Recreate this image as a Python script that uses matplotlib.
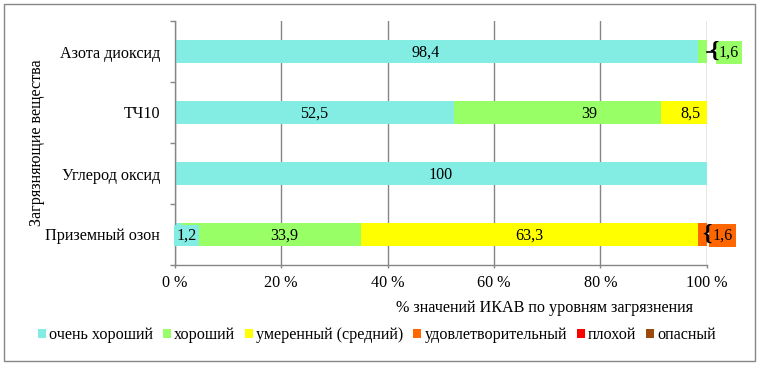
import matplotlib
matplotlib.use("Agg")
import matplotlib.pyplot as plt
from matplotlib.patches import Patch, Rectangle
import numpy as np

plt.rcParams['font.family'] = ['Liberation Serif', 'DejaVu Serif']

categories = ["Азота диоксид", "ТЧ10", "Углерод оксид", "Приземный озон"]
levels = ["очень хороший", "хороший", "умеренный (средний)", "удовлетворительный", "плохой", "опасный"]
colors = ["#83ECE3", "#99FF66", "#FFFF00", "#FF6600", "#FF0000", "#9C4A0B"]
# percent values per level for each category (top to bottom)
very_good = [98.4, 52.5, 100.0, 1.2]
good = [1.6, 39.0, 0.0, 33.9]
moderate = [0.0, 8.5, 0.0, 63.3]
satisfactory = [0.0, 0.0, 0.0, 1.6]
bad = [0.0, 0.0, 0.0, 0.0]
dangerous = [0.0, 0.0, 0.0, 0.0]
xticks = [0, 20, 40, 60, 80, 100]

series = [very_good, good, moderate, satisfactory, bad, dangerous]

FS = 11.6
W, H = 764, 367
fig = plt.figure(figsize=(W / 100, H / 100), dpi=100)
ax = fig.add_axes([174.7 / W, (H - 265) / H, 532 / W, 244 / H])

y = np.arange(len(categories))
left = np.zeros(len(categories))
bar_h = 0.39
for vals, col in zip(series, colors):
    ax.barh(y, vals, left=left, height=bar_h, color=col, zorder=2, linewidth=0)
    left = left + np.array(vals)

ax.set_xlim(0, 100)
ax.set_ylim(3.5, -0.5)
ax.set_xticks(xticks)
ax.set_xticklabels([f"{t} %" for t in xticks], fontsize=FS)
ax.set_yticks(y)
ax.set_yticklabels(categories, fontsize=FS)
ax.set_yticks(np.arange(-0.5, 4.0, 1.0), minor=True)
ax.tick_params(axis='y', which='major', length=0, pad=10.5)
ax.tick_params(axis='y', which='minor', length=3.5, color='#868686', width=1)
ax.tick_params(axis='x', which='major', length=2.5, color='#868686', width=1, pad=5)
ax.grid(axis='x', color='#868686', linewidth=1, zorder=1)
ax.set_axisbelow(True)
for s in ['top', 'right']:
    ax.spines[s].set_visible(False)
for s in ['left', 'bottom']:
    ax.spines[s].set_color('#868686')
    ax.spines[s].set_linewidth(1)

def fmt(v):
    s = f"{v:g}"
    return s.replace('.', ',')

# data labels (centered with small manual offsets as in the reference)
label_offsets = {(0, 0): -2.0, (1, 1): 6.0, (3, 1): 2.5, (1, 2): 1.2}
for ci in range(len(categories)):
    cum = 0.0
    for li, vals in enumerate(series):
        v = vals[ci]
        if v <= 0:
            cum += v
            continue
        bbox = dict(boxstyle='square,pad=0.12', fc=colors[li], ec='none')
        if v < 2 and li == 0:
            ax.text(2.3, ci + 0.02, fmt(v), ha='center', va='center', fontsize=FS,
                    bbox=dict(boxstyle='square,pad=0.15', fc=colors[li], ec='none'), zorder=4)
        elif v < 2:
            x0 = 102.3 if ci == 0 else 101.1
            ax.text(x0, ci + 0.02, fmt(v), ha='left', va='center', fontsize=FS,
                    bbox=dict(boxstyle='square,pad=0.2', fc=colors[li], ec='none'),
                    zorder=4, clip_on=False)
            ax.text(x0 - 0.1, ci + 0.0, "{", ha='right', va='center', fontsize=17,
                    fontweight='bold', zorder=5, clip_on=False)
            if ci == 0:
                ax.plot([100, x0 - 1.0], [ci, ci], color='black', lw=1.2, zorder=5, clip_on=False)
        else:
            xc = cum + v / 2 + label_offsets.get((ci, li), 0.0)
            ax.text(xc, ci + 0.02, fmt(v), ha='center', va='center', fontsize=FS,
                    bbox=bbox, zorder=4)
        cum += v

fig.text(37 / W, 1 - 143 / H, "Загрязняющие вещества", rotation=90, ha='center', va='center',
         fontsize=FS)
fig.text(545 / W, 1 - 308 / H, "% значений ИКАВ по уровням загрязнения", ha='center', va='center',
         fontsize=FS)

handles = [Patch(facecolor=c, edgecolor='none') for c in colors]
fig.legend(handles, levels, loc='center', bbox_to_anchor=(377 / W, 1 - 335 / H), ncol=6,
           frameon=False, fontsize=FS, handlelength=0.5, handleheight=0.5,
           handletextpad=0.2, columnspacing=0.6, borderaxespad=0)

fig.patches.append(Rectangle((4 / W, 1 - 361 / H), 751 / W, 357 / H, transform=fig.transFigure,
                             fill=False, edgecolor='#868686', linewidth=1))

fig.savefig("out.png", dpi=100)
